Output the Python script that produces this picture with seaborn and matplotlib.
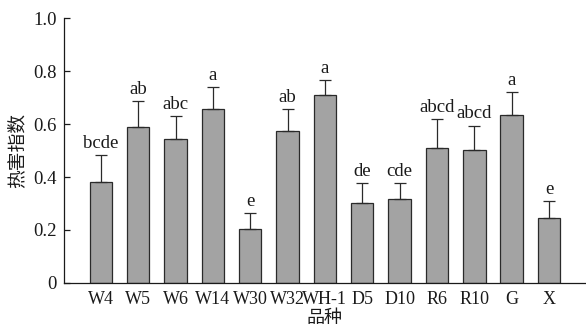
import numpy as np
import pandas as pd
import matplotlib
matplotlib.use('Agg')
import matplotlib.pyplot as plt
import seaborn as sns

# Data
varieties = ['W4', 'W5', 'W6', 'W14', 'W30', 'W32', 'WH-1', 'D5', 'D10', 'R6', 'R10', 'G', 'X']
heat_index = [0.381, 0.589, 0.545, 0.655, 0.204, 0.574, 0.709, 0.300, 0.318, 0.508, 0.503, 0.633, 0.245]
std_err = [0.102, 0.098, 0.085, 0.085, 0.060, 0.083, 0.058, 0.077, 0.059, 0.112, 0.091, 0.087, 0.065]
letters = ['bcde', 'ab', 'abc', 'a', 'e', 'ab', 'a', 'de', 'cde', 'abcd', 'abcd', 'a', 'e']

yticks = [0, 0.2, 0.4, 0.6, 0.8, 1.0]
ytick_labels = ['0', '0.2', '0.4', '0.6', '0.8', '1.0']

sns.set_theme(style='ticks')
plt.rcParams['font.family'] = ['Liberation Serif', 'Noto Sans CJK SC']

df = pd.DataFrame({'variety': varieties, 'value': heat_index, 'err': std_err})

fig = plt.figure(figsize=(5.86, 3.29), dpi=100)
ax = fig.add_axes([0.109, 0.14, 0.891, 0.805])

sns.barplot(data=df, x='variety', y='value', color='#a3a3a3', saturation=1,
            width=0.6, edgecolor='#2a2a2a', linewidth=0.9, ax=ax)

pos = np.arange(len(varieties))
vals = np.array(heat_index)
errs = np.array(std_err)
ax.errorbar(pos, vals, yerr=[np.zeros_like(errs), errs], fmt='none',
            ecolor='#2a2a2a', elinewidth=0.9, capsize=4, capthick=0.9)

for x, top, lab in zip(pos, vals + errs, letters):
    ax.text(x, top + 0.012, lab, ha='center', va='bottom', fontsize=13.5,
            color='#1a1a1a')

ax.set_xlim(-0.99, len(varieties) - 0.01)
ax.set_ylim(0, 1.0)
ax.set_yticks(yticks)
ax.set_yticklabels(ytick_labels)
ax.tick_params(axis='both', direction='in', length=4, width=0.9,
               labelsize=13.5, colors='#1a1a1a')
ax.tick_params(axis='x', pad=5.5, labelsize=13)
ax.tick_params(axis='y', pad=5)
ax.set_xlabel('品种', fontsize=13, labelpad=2, color='#1a1a1a')
ax.set_ylabel('热害指数', fontsize=13.5, labelpad=5, color='#1a1a1a')

sns.despine(ax=ax)
for side in ['left', 'bottom']:
    ax.spines[side].set_color('#1a1a1a')
    ax.spines[side].set_linewidth(0.9)

fig.savefig('out.png', dpi=100, facecolor='white')
